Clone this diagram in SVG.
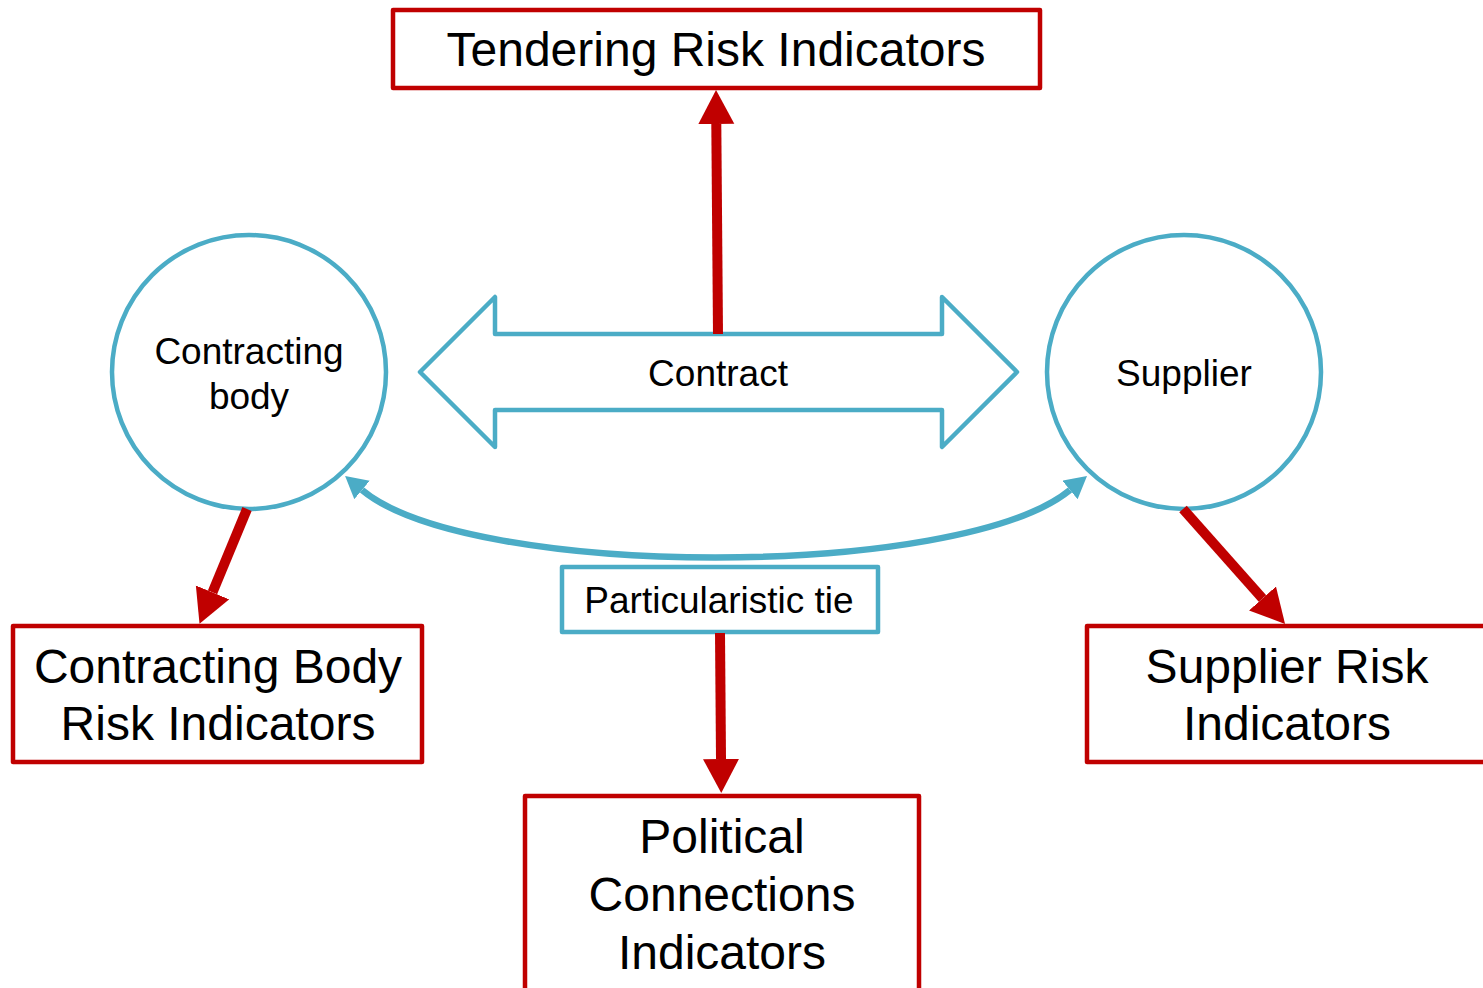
<svg xmlns="http://www.w3.org/2000/svg" width="1483" height="988" viewBox="0 0 1483 988">
<defs>
<style>
.red{fill:#fff;stroke:#C00000;stroke-width:4.5;stroke-linejoin:round}
.teal{fill:#fff;stroke:#4BACC6;stroke-width:4.5;stroke-linejoin:round}
.big{font-family:"Liberation Sans",Arial,sans-serif;font-size:48px;fill:#000;text-anchor:middle}
.small{font-family:"Liberation Sans",Arial,sans-serif;font-size:37px;fill:#000;text-anchor:middle}
.redline{stroke:#C00000;stroke-width:10;fill:none;marker-end:url(#redhead)}
</style>
<marker id="redhead" markerUnits="userSpaceOnUse" markerWidth="36" markerHeight="38" refX="0" refY="18" orient="auto">
<path d="M0,0 L34,18 L0,36 z" fill="#C00000"/>
</marker>
<marker id="tealhead" markerUnits="userSpaceOnUse" markerWidth="26" markerHeight="26" refX="0" refY="12" orient="auto-start-reverse">
<path d="M0,0 L22,12 L0,24 z" fill="#4BACC6"/>
</marker>
</defs>
<rect width="1483" height="988" fill="#fff"/>

<g id="contract">
<polygon class="teal" points="420,372 495,297 495,334 942,334 942,297 1017,372 942,447 942,410 495,410 495,447"/>
<text class="small" x="718" y="386">Contract</text>
</g>

<g id="contracting-body">
<circle class="teal" cx="249" cy="372" r="137"/>
<text class="small" x="249" y="364">Contracting</text>
<text class="small" x="249" y="409">body</text>
</g>

<g id="supplier">
<circle class="teal" cx="1184" cy="372" r="137"/>
<text class="small" x="1184" y="386">Supplier</text>
</g>

<g id="particularistic-tie">
<rect class="teal" x="562" y="567" width="316" height="65"/>
<text class="small" x="719" y="613">Particularistic tie</text>
</g>

<g id="tendering">
<rect class="red" x="393" y="10" width="647" height="78"/>
<text class="big" x="716" y="66">Tendering Risk Indicators</text>
</g>

<g id="contracting-body-risk">
<rect class="red" x="13" y="626" width="409" height="136"/>
<text class="big" x="218" y="683">Contracting Body</text>
<text class="big" x="218" y="740">Risk Indicators</text>
</g>

<g id="supplier-risk">
<rect class="red" x="1087" y="626" width="400" height="136"/>
<text class="big" x="1287" y="683">Supplier Risk</text>
<text class="big" x="1287" y="740">Indicators</text>
</g>

<g id="political-connections">
<rect class="red" x="525" y="796" width="394" height="200"/>
<text class="big" x="722" y="853">Political</text>
<text class="big" x="722" y="911">Connections</text>
<text class="big" x="722" y="969">Indicators</text>
</g>

<g id="connectors">
<path d="M362,490 C470,580 960,580 1070,490" fill="none" stroke="#4BACC6" stroke-width="6.5" marker-start="url(#tealhead)" marker-end="url(#tealhead)"/>
<line class="redline" x1="718" y1="334" x2="716.3" y2="124"/>
<line class="redline" x1="720" y1="633" x2="721" y2="759"/>
<line class="redline" x1="247" y1="509" x2="212.5" y2="592.4"/>
<line class="redline" x1="1183" y1="509" x2="1262.5" y2="598.5"/>
</g>
</svg>
